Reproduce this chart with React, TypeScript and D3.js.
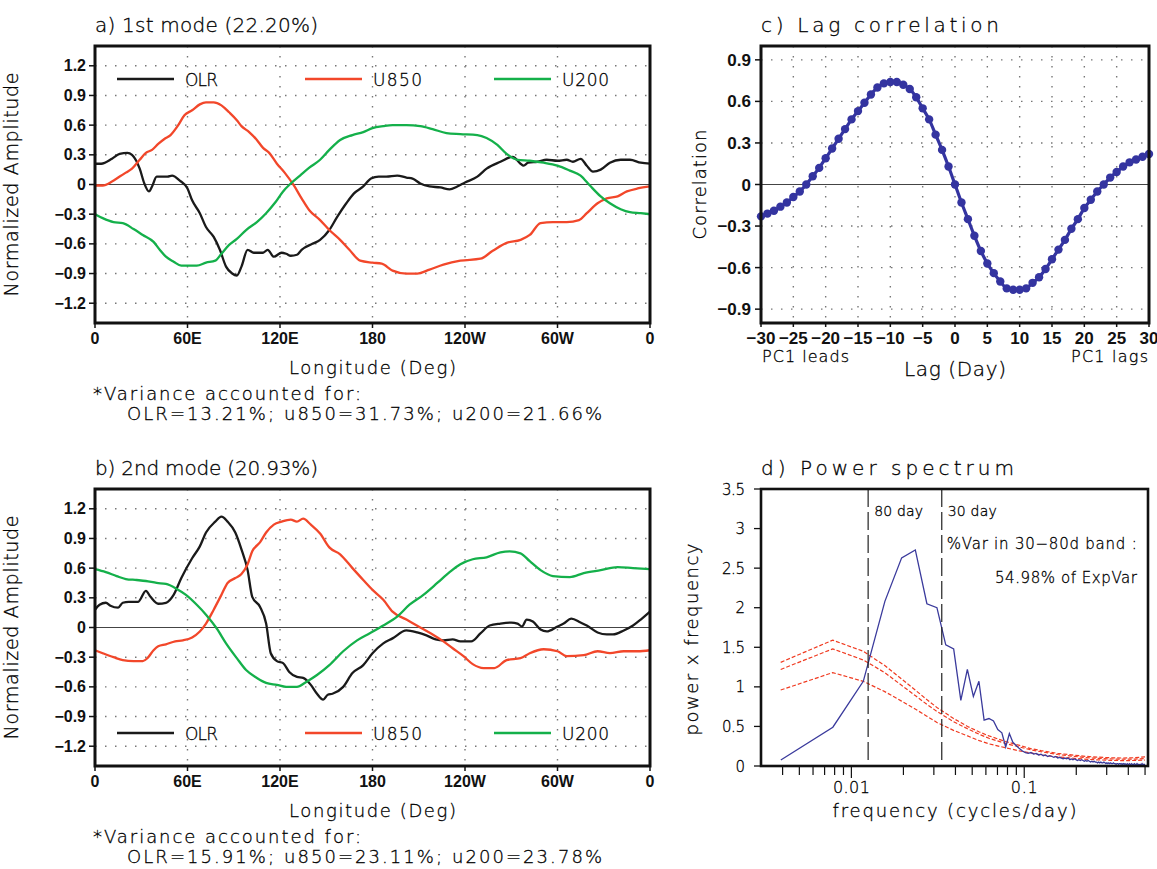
import React, { useEffect, useRef } from "react";
import * as d3 from "d3";

const W = 1157;
const H = 869;

const lonTicks = [0, 60, 120, 180, 240, 300, 360];
const lonLabels = ["0", "60E", "120E", "180", "120W", "60W", "0"];
const ampTicks = [1.2, 0.9, 0.6, 0.3, 0, -0.3, -0.6, -0.9, -1.2];

// mode 1 (longitude, normalized amplitude)
const olr1 = [[0,0.21],[4,0.21],[11,0.26],[16,0.31],[21,0.32],[24,0.30],[29,0.16],[32,0.01],[35,-0.07],[37,-0.02],[40,0.08],[44,0.08],[47,0.08],[50,0.09],[55,0.04],[60,-0.04],[63,-0.16],[68,-0.29],[72,-0.43],[77,-0.53],[81,-0.66],[85,-0.83],[89,-0.90],[92,-0.92],[95,-0.83],[99,-0.66],[103,-0.69],[109,-0.69],[112,-0.66],[116,-0.73],[121,-0.69],[124,-0.70],[127,-0.72],[131,-0.71],[134,-0.66],[141,-0.60],[146,-0.56],[152,-0.46],[157,-0.33],[163,-0.19],[168,-0.09],[174,-0.02],[179,0.06],[184,0.08],[189,0.08],[196,0.09],[202,0.07],[206,0.06],[211,0.01],[217,-0.02],[224,-0.03],[230,-0.05],[235,-0.02],[240,0.02],[248,0.08],[254,0.16],[263,0.23],[271,0.28],[276,0.21],[278,0.19],[281,0.22],[287,0.23],[293,0.25],[300,0.24],[306,0.25],[310,0.23],[315,0.26],[319,0.19],[323,0.13],[328,0.15],[334,0.22],[341,0.25],[347,0.25],[354,0.22],[360,0.21]];
const u850_1 = [[0,-0.01],[5,-0.01],[11,0.03],[16,0.08],[20,0.12],[24,0.16],[29,0.25],[33,0.32],[37,0.35],[41,0.41],[45,0.46],[49,0.50],[54,0.60],[58,0.70],[63,0.75],[68,0.81],[72,0.83],[77,0.83],[82,0.80],[87,0.73],[92,0.65],[95,0.59],[100,0.53],[105,0.45],[109,0.37],[113,0.32],[118,0.21],[123,0.12],[129,-0.01],[134,-0.14],[139,-0.26],[146,-0.36],[152,-0.46],[159,-0.56],[165,-0.66],[172,-0.77],[180,-0.79],[186,-0.80],[193,-0.87],[202,-0.90],[209,-0.90],[217,-0.86],[226,-0.81],[237,-0.77],[250,-0.75],[258,-0.67],[267,-0.59],[276,-0.56],[282,-0.51],[289,-0.39],[297,-0.38],[306,-0.38],[314,-0.36],[319,-0.29],[326,-0.19],[332,-0.14],[339,-0.12],[345,-0.07],[352,-0.04],[360,-0.02]];
const u200_1 = [[0,-0.30],[5,-0.34],[12,-0.38],[18,-0.39],[25,-0.45],[31,-0.51],[38,-0.58],[42,-0.66],[46,-0.73],[51,-0.78],[56,-0.82],[60,-0.82],[66,-0.82],[72,-0.79],[78,-0.77],[82,-0.70],[87,-0.61],[92,-0.55],[98,-0.46],[105,-0.38],[111,-0.29],[117,-0.18],[122,-0.07],[127,0.01],[133,0.09],[139,0.17],[146,0.25],[152,0.35],[159,0.45],[167,0.50],[174,0.53],[180,0.57],[187,0.59],[193,0.60],[202,0.60],[211,0.59],[219,0.56],[228,0.52],[237,0.51],[248,0.50],[254,0.47],[261,0.40],[267,0.31],[274,0.25],[282,0.24],[291,0.22],[300,0.19],[308,0.14],[315,0.09],[321,-0.01],[328,-0.12],[334,-0.19],[341,-0.25],[347,-0.28],[354,-0.29],[360,-0.30]];

// mode 2
const olr2 = [[0,0.18],[3,0.23],[7,0.25],[10,0.22],[15,0.20],[18,0.25],[22,0.26],[28,0.26],[33,0.37],[36,0.31],[41,0.24],[46,0.25],[51,0.33],[56,0.50],[63,0.70],[68,0.82],[72,0.96],[78,1.07],[82,1.12],[86,1.07],[91,0.96],[95,0.79],[99,0.58],[102,0.31],[107,0.21],[111,0.04],[114,-0.26],[118,-0.34],[122,-0.36],[126,-0.45],[131,-0.50],[135,-0.51],[140,-0.58],[144,-0.67],[148,-0.73],[151,-0.68],[154,-0.67],[161,-0.60],[167,-0.46],[174,-0.38],[180,-0.26],[187,-0.16],[193,-0.11],[202,-0.03],[209,-0.05],[215,-0.08],[221,-0.12],[226,-0.13],[232,-0.12],[237,-0.14],[244,-0.14],[250,-0.06],[256,0.02],[263,0.04],[270,0.05],[274,0.04],[277,0.01],[280,0.08],[284,0.06],[289,-0.02],[293,-0.04],[300,0.01],[304,0.04],[309,0.09],[315,0.05],[319,0.02],[326,-0.05],[332,-0.07],[336,-0.07],[343,-0.03],[349,0.02],[354,0.08],[360,0.16]];
const u850_2 = [[0,-0.23],[5,-0.26],[12,-0.30],[18,-0.33],[25,-0.34],[31,-0.34],[34,-0.31],[38,-0.23],[41,-0.19],[46,-0.17],[52,-0.14],[57,-0.13],[63,-0.10],[68,-0.04],[72,0.04],[77,0.18],[82,0.33],[86,0.45],[91,0.50],[95,0.54],[99,0.64],[102,0.77],[107,0.86],[111,0.96],[116,1.04],[121,1.07],[127,1.09],[131,1.07],[135,1.10],[140,1.04],[146,0.95],[152,0.81],[159,0.74],[167,0.60],[174,0.48],[180,0.38],[187,0.28],[193,0.16],[202,0.08],[211,0.00],[219,-0.07],[226,-0.14],[232,-0.21],[239,-0.29],[245,-0.37],[252,-0.41],[259,-0.41],[267,-0.33],[276,-0.31],[282,-0.26],[291,-0.22],[300,-0.24],[306,-0.29],[317,-0.28],[326,-0.24],[334,-0.26],[343,-0.24],[352,-0.24],[360,-0.23]];
const u200_2 = [[0,0.59],[7,0.56],[14,0.52],[20,0.49],[27,0.48],[33,0.47],[40,0.45],[46,0.44],[53,0.39],[59,0.33],[66,0.23],[72,0.13],[79,-0.01],[85,-0.16],[92,-0.31],[98,-0.43],[105,-0.51],[111,-0.56],[118,-0.58],[124,-0.60],[131,-0.60],[137,-0.55],[144,-0.48],[152,-0.38],[161,-0.24],[170,-0.13],[178,-0.06],[187,0.02],[196,0.11],[204,0.23],[213,0.33],[222,0.45],[230,0.56],[237,0.64],[245,0.69],[254,0.71],[263,0.76],[269,0.77],[276,0.75],[282,0.67],[289,0.58],[297,0.52],[308,0.51],[317,0.55],[328,0.58],[339,0.61],[349,0.60],[360,0.59]];

// lag correlation, lag -30..30
const lagStart = -30;
const lagCorr = [-0.23,-0.21,-0.19,-0.16,-0.13,-0.09,-0.05,0.00,0.06,0.12,0.19,0.26,0.33,0.40,0.47,0.53,0.59,0.65,0.70,0.73,0.74,0.74,0.72,0.69,0.63,0.55,0.47,0.36,0.25,0.13,0.00,-0.13,-0.25,-0.37,-0.48,-0.57,-0.64,-0.70,-0.75,-0.76,-0.76,-0.75,-0.71,-0.67,-0.61,-0.54,-0.47,-0.40,-0.32,-0.25,-0.17,-0.11,-0.05,0.00,0.05,0.09,0.13,0.16,0.18,0.20,0.22];
const lagTicks = [-30,-25,-20,-15,-10,-5,0,5,10,15,20,25,30];
const corrTicks = [0.9, 0.6, 0.3, 0, -0.3, -0.6, -0.9];

// power spectrum, frequency k/256 cycles/day, k = 1..128
const specLen = 256;
const power = [0.076,0.49,1.07,2.08,2.63,2.73,2.05,2.00,1.53,1.48,0.83,1.22,0.88,1.07,0.58,0.60,0.57,0.46,0.42,0.24,0.41,0.30,0.26,0.22,0.19,
  0.17,0.16,0.17,0.15,0.16,0.14,0.15,0.13,0.14,0.12,0.13,0.12,0.11,0.12,0.10,0.11,0.10,0.09,0.10,0.09,0.10,0.08,0.09,0.08,0.09,0.08,0.07,0.08,0.07,0.08,
  0.07,0.06,0.07,0.06,0.07,0.06,0.05,0.06,0.05,0.06,0.05,0.05,0.04,0.05,0.04,0.05,0.04,0.04,0.05,0.04,0.03,0.04,0.03,0.04,0.03,0.04,0.03,0.03,0.04,0.03,
  0.03,0.02,0.03,0.03,0.02,0.03,0.03,0.02,0.03,0.02,0.03,0.02,0.03,0.02,0.02,0.03,0.02,0.02,0.03,0.02,0.02,0.03,0.02,0.02,0.02,0.03,0.02,0.02,0.02,0.03,
  0.02,0.02,0.02,0.01,0.02,0.02,0.02,0.03,0.02,0.02,0.02,0.02,0.02];
// red-noise spectrum and its bounds
const redFreq = [0.0039,0.0078,0.0117,0.0156,0.0195,0.0234,0.0273,0.03125,0.039,0.047,0.055,0.0625,0.078,0.094,0.109,0.125,0.156,0.1875,0.219,0.25,0.3125,0.375,0.4375,0.5];
const redUpper = [1.31,1.59,1.45,1.27,1.10,0.96,0.84,0.74,0.60,0.50,0.43,0.38,0.31,0.26,0.22,0.195,0.16,0.14,0.125,0.115,0.105,0.10,0.105,0.115];
const redMid = [1.22,1.48,1.34,1.18,1.02,0.89,0.78,0.69,0.56,0.47,0.40,0.35,0.285,0.24,0.205,0.18,0.145,0.125,0.11,0.10,0.09,0.085,0.088,0.095];
const redLower = [0.96,1.18,1.07,0.94,0.82,0.72,0.63,0.55,0.45,0.38,0.32,0.28,0.23,0.19,0.165,0.14,0.115,0.10,0.088,0.08,0.072,0.068,0.07,0.076];
const powTicks = [0, 0.5, 1, 1.5, 2, 2.5, 3, 3.5];
const bandDays = [80, 30];

const thin = "'DejaVu Sans', sans-serif";
const bold = "'Liberation Sans', Arial, sans-serif";
const BLACK = "#1a1a1a";
const RED = "#f2472a";
const GREEN = "#14b04a";
const NAVY = "#3434a0";

// thin "plotter" text, stretched to the width it has in the figure
function label(g, x, y, s, size, width, anchor = "start", rotate = false) {
  const t = g
    .append("text")
    .attr("text-anchor", anchor)
    .attr("font-family", thin)
    .attr("font-weight", 300)
    .attr("font-size", size)
    .attr("fill", "#000")
    .attr("stroke", "#000")
    .attr("stroke-width", 0.3)
    .attr("textLength", width)
    .attr("lengthAdjust", "spacing")
    .text(s);
  if (rotate) t.attr("transform", `translate(${x},${y}) rotate(-90)`);
  else t.attr("x", x).attr("y", y);
  return t;
}

function frame(g, b, sw = 3) {
  g.append("rect")
    .attr("x", b.x0)
    .attr("y", b.y0)
    .attr("width", b.x1 - b.x0)
    .attr("height", b.y1 - b.y0)
    .attr("fill", "none")
    .attr("stroke", "#111")
    .attr("stroke-width", sw);
}

function dotted(sel) {
  return sel
    .attr("stroke", "#777")
    .attr("stroke-width", 1.4)
    .attr("stroke-dasharray", "1.5,8.5");
}

function boldLabels(sel, size) {
  return sel
    .attr("font-family", bold)
    .attr("font-weight", "bold")
    .attr("font-size", size)
    .attr("fill", "#111");
}

const fmt = (d) => (d === 0 ? "0" : d3.format(".1f")(d).replace("-", "\u2212"));

function drawMode(svg, b, series, title, varText, legendOffset) {
  const g = svg.append("g");
  const x = d3.scaleLinear().domain([0, 360]).range([b.x0, b.x1]);
  const y = d3.scaleLinear().domain([-1.4, 1.4]).range([b.y1, b.y0]);

  g.selectAll(".vg")
    .data(lonTicks.slice(1, -1))
    .join("line")
    .attr("x1", (d) => x(d))
    .attr("x2", (d) => x(d))
    .attr("y1", b.y0)
    .attr("y2", b.y1)
    .call(dotted);
  g.selectAll(".hg")
    .data(ampTicks.filter((d) => d !== 0))
    .join("line")
    .attr("x1", b.x0)
    .attr("x2", b.x1)
    .attr("y1", (d) => y(d))
    .attr("y2", (d) => y(d))
    .call(dotted);
  g.append("line")
    .attr("x1", b.x0)
    .attr("x2", b.x1)
    .attr("y1", y(0))
    .attr("y2", y(0))
    .attr("stroke", "#444")
    .attr("stroke-width", 1);

  const line = d3
    .line()
    .x((d) => x(d[0]))
    .y((d) => y(d[1]))
    .curve(d3.curveMonotoneX);
  series.forEach((s) => {
    g.append("path")
      .attr("d", line(s.data))
      .attr("fill", "none")
      .attr("stroke", s.color)
      .attr("stroke-width", 2.3)
      .attr("stroke-linejoin", "round");
  });

  // legend
  const ly = legendOffset > 0 ? b.y0 + legendOffset : b.y1 + legendOffset;
  const lx = [22, 210, 399];
  const lw = [33, 49, 47];
  series.forEach((s, i) => {
    g.append("line")
      .attr("x1", b.x0 + lx[i])
      .attr("x2", b.x0 + lx[i] + 57)
      .attr("y1", ly)
      .attr("y2", ly)
      .attr("stroke", s.color)
      .attr("stroke-width", 2.5);
    label(g, b.x0 + lx[i] + 68, ly + 6.5, s.name, 17, lw[i]);
  });

  frame(g, b);

  g.selectAll(".yt")
    .data(ampTicks)
    .join("line")
    .attr("x1", b.x0 - 6)
    .attr("x2", b.x0)
    .attr("y1", (d) => y(d))
    .attr("y2", (d) => y(d))
    .attr("stroke", "#111")
    .attr("stroke-width", 1.5);
  g.selectAll(".yl")
    .data(ampTicks)
    .join("text")
    .attr("x", b.x0 - 9)
    .attr("y", (d) => y(d) + 5.5)
    .attr("text-anchor", "end")
    .call(boldLabels, 16)
    .text(fmt);
  g.selectAll(".xt")
    .data(lonTicks)
    .join("line")
    .attr("x1", (d) => x(d))
    .attr("x2", (d) => x(d))
    .attr("y1", b.y1)
    .attr("y2", b.y1 + 5)
    .attr("stroke", "#111")
    .attr("stroke-width", 1.5);
  g.selectAll(".xl")
    .data(lonLabels)
    .join("text")
    .attr("x", (d, i) => x(lonTicks[i]))
    .attr("y", b.y1 + 21)
    .attr("text-anchor", "middle")
    .call(boldLabels, 16)
    .text((d) => d);

  label(g, b.x0, b.y0 - 14, title, 20, 223);
  label(g, (b.x0 + b.x1) / 2, b.y1 + 51, "Longitude (Deg)", 18, 167, "middle");
  label(g, b.x0 - 2, b.y1 + 77, "*Variance accounted for:", 18, 268);
  label(g, b.x0 + 32, b.y1 + 97, varText, 18, 475);
  label(g, b.x0 - 77, (b.y0 + b.y1) / 2, "Normalized Amplitude", 19, 224, "middle", true);
}

function drawLag(svg, b) {
  const g = svg.append("g");
  const x = d3.scaleLinear().domain([-30, 30]).range([b.x0, b.x1]);
  const y = d3.scaleLinear().domain([-1, 1]).range([b.y1, b.y0]);
  const pts = lagCorr.map((v, i) => [lagStart + i, v]);

  g.selectAll(".vg")
    .data(lagTicks.slice(1, -1))
    .join("line")
    .attr("x1", (d) => x(d))
    .attr("x2", (d) => x(d))
    .attr("y1", b.y0)
    .attr("y2", b.y1)
    .call(dotted);
  g.selectAll(".hg")
    .data(corrTicks.filter((d) => d !== 0))
    .join("line")
    .attr("x1", b.x0)
    .attr("x2", b.x1)
    .attr("y1", (d) => y(d))
    .attr("y2", (d) => y(d))
    .call(dotted);
  g.append("line")
    .attr("x1", b.x0)
    .attr("x2", b.x1)
    .attr("y1", y(0))
    .attr("y2", y(0))
    .attr("stroke", "#444")
    .attr("stroke-width", 1);

  const line = d3
    .line()
    .x((d) => x(d[0]))
    .y((d) => y(d[1]))
    .curve(d3.curveMonotoneX);
  g.append("path")
    .attr("d", line(pts))
    .attr("fill", "none")
    .attr("stroke", NAVY)
    .attr("stroke-width", 3.2);
  g.selectAll(".pt")
    .data(pts)
    .join("circle")
    .attr("cx", (d) => x(d[0]))
    .attr("cy", (d) => y(d[1]))
    .attr("r", 4.2)
    .attr("fill", NAVY);

  frame(g, b);

  g.selectAll(".yt")
    .data(corrTicks)
    .join("line")
    .attr("x1", b.x0 - 6)
    .attr("x2", b.x0)
    .attr("y1", (d) => y(d))
    .attr("y2", (d) => y(d))
    .attr("stroke", "#111")
    .attr("stroke-width", 1.5);
  g.selectAll(".yl")
    .data(corrTicks)
    .join("text")
    .attr("x", b.x0 - 10)
    .attr("y", (d) => y(d) + 6)
    .attr("text-anchor", "end")
    .call(boldLabels, 17)
    .text(fmt);
  g.selectAll(".xt")
    .data(lagTicks)
    .join("line")
    .attr("x1", (d) => x(d))
    .attr("x2", (d) => x(d))
    .attr("y1", b.y1)
    .attr("y2", b.y1 + 4)
    .attr("stroke", "#111")
    .attr("stroke-width", 1.5);
  g.selectAll(".xl")
    .data(lagTicks)
    .join("text")
    .attr("x", (d) => x(d))
    .attr("y", b.y1 + 21)
    .attr("text-anchor", "middle")
    .call(boldLabels, 17)
    .text((d) => String(d).replace("-", "\u2212"));

  label(g, b.x0, b.y0 - 14, "c) Lag correlation", 20, 238);
  label(g, b.x0 + 1, b.y1 + 39, "PC1 leads", 16, 87);
  label(g, b.x1 - 1, b.y1 + 39, "PC1 lags", 16, 77, "end");
  label(g, (b.x0 + b.x1) / 2, b.y1 + 53, "Lag (Day)", 20, 102, "middle");
  label(g, b.x0 - 55, (b.y0 + b.y1) / 2, "Correlation", 18, 110, "middle", true);
}

function drawSpectrum(svg, b) {
  const g = svg.append("g");
  const x = d3.scaleLog().domain([0.003, 0.52]).range([b.x0, b.x1]);
  const y = d3.scaleLinear().domain([0, 3.5]).range([b.y1, b.y0]);

  const line = d3
    .line()
    .x((d) => x(d[0]))
    .y((d) => y(d[1]));
  [redUpper, redMid, redLower].forEach((vals) => {
    g.append("path")
      .attr("d", line(vals.map((v, i) => [redFreq[i], v])))
      .attr("fill", "none")
      .attr("stroke", "#f03a20")
      .attr("stroke-width", 1.2)
      .attr("stroke-dasharray", "4,2");
  });

  g.append("path")
    .attr("d", line(power.map((v, i) => [(i + 1) / specLen, v])))
    .attr("fill", "none")
    .attr("stroke", "#3a3a9c")
    .attr("stroke-width", 1.3);

  bandDays.forEach((d) => {
    g.append("line")
      .attr("x1", x(1 / d))
      .attr("x2", x(1 / d))
      .attr("y1", b.y0)
      .attr("y2", b.y1)
      .attr("stroke", "#222")
      .attr("stroke-width", 1.2)
      .attr("stroke-dasharray", "18,5");
  });

  frame(g, b, 2.6);

  g.selectAll(".yt")
    .data(powTicks)
    .join("line")
    .attr("x1", b.x0 - 7)
    .attr("x2", b.x0)
    .attr("y1", (d) => y(d))
    .attr("y2", (d) => y(d))
    .attr("stroke", "#111")
    .attr("stroke-width", 1.3);
  powTicks.forEach((d) => {
    label(g, b.x0 - 16, y(d) + 5.5, String(d), 15, String(d).length > 1 ? 23 : 9, "end");
  });

  const minor = [0.004, 0.005, 0.006, 0.007, 0.008, 0.009, 0.01, 0.02, 0.03, 0.04, 0.05, 0.06, 0.07, 0.08, 0.09, 0.1, 0.2, 0.3, 0.4, 0.5];
  g.selectAll(".xt")
    .data(minor)
    .join("line")
    .attr("x1", (d) => x(d))
    .attr("x2", (d) => x(d))
    .attr("y1", b.y1)
    .attr("y2", (d) => b.y1 + (d === 0.01 || d === 0.1 ? 12 : 9))
    .attr("stroke", "#111")
    .attr("stroke-width", 1.2);
  label(g, x(0.01), b.y1 + 27, "0.01", 16, 37, "middle");
  label(g, x(0.1), b.y1 + 27, "0.1", 16, 27, "middle");

  label(g, b.x0, b.y0 - 14, "d) Power spectrum", 20, 253);
  label(g, x(1 / 80) + 6, b.y0 + 27, "80 day", 14, 49);
  label(g, x(1 / 30) + 6, b.y0 + 27, "30 day", 14, 49);
  label(g, x(1 / 30) + 5, b.y0 + 60, "%Var in 30\u221280d band :", 15, 190);
  label(g, b.x1 - 11, b.y0 + 94, "54.98% of ExpVar", 15, 142, "end");
  label(g, (b.x0 + b.x1) / 2 + 0, b.y1 + 51, "frequency (cycles/day)", 18, 244, "middle");
  label(g, b.x0 - 63, (b.y0 + b.y1) / 2 + 12, "power x frequency", 18, 192, "middle", true);
}

export default function App() {
  const ref = useRef(null);

  useEffect(() => {
    const svg = d3.select(ref.current);
    svg.selectAll("*").remove();
    svg.append("rect").attr("width", W).attr("height", H).attr("fill", "#fff");

    drawMode(
      svg,
      { x0: 95, x1: 650, y0: 46, y1: 323 },
      [
        { name: "OLR", color: BLACK, data: olr1 },
        { name: "U850", color: RED, data: u850_1 },
        { name: "U200", color: GREEN, data: u200_1 },
      ],
      "a) 1st mode (22.20%)",
      "OLR=13.21%; u850=31.73%; u200=21.66%",
      33
    );
    drawMode(
      svg,
      { x0: 95, x1: 650, y0: 489, y1: 766 },
      [
        { name: "OLR", color: BLACK, data: olr2 },
        { name: "U850", color: RED, data: u850_2 },
        { name: "U200", color: GREEN, data: u200_2 },
      ],
      "b) 2nd mode (20.93%)",
      "OLR=15.91%; u850=23.11%; u200=23.78%",
      -33
    );
    drawLag(svg, { x0: 761, x1: 1149, y0: 46, y1: 323 });
    drawSpectrum(svg, { x0: 761, x1: 1148, y0: 489, y1: 766 });
  }, []);

  return (
    <svg
      ref={ref}
      width={W}
      height={H}
      style={{ position: "absolute", left: 0, top: 0 }}
    />
  );
}
